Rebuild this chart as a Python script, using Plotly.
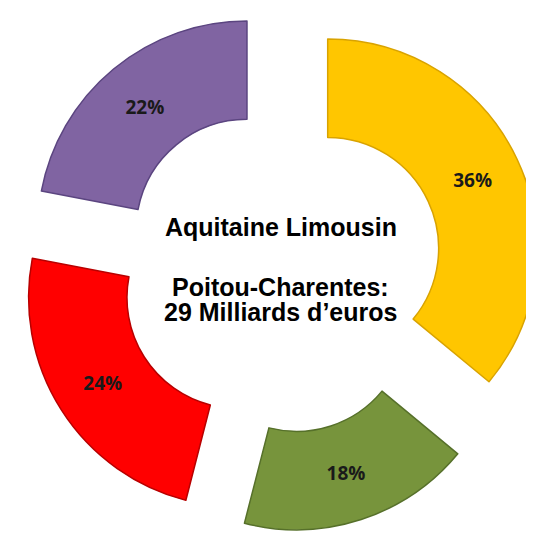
"""
Répartition - anneau éclaté
"""

import plotly.graph_objects as go

# données
regions = ['Jaune', 'Vert', 'Rouge', 'Violet']
parts = [36, 18, 24, 22]
couleurs = ['#FFC600', '#77943C', '#FF0000', '#8064A2']
bordures = ['#D9A300', '#56702A', '#B80000', '#5B4580']
ecarts = [0.25, 0.25, 0.24, 0.25]

titre_1 = 'Aquitaine Limousin'
titre_2 = 'Poitou-Charentes:'
titre_3 = '29 Milliards d’euros'

fig = go.Figure()

fig.add_trace(go.Pie(
    labels=regions,
    values=parts,
    hole=0.53,
    sort=False,
    direction='clockwise',
    rotation=0,
    pull=ecarts,
    marker=dict(colors=couleurs, line=dict(color=bordures, width=1.5)),
    texttemplate='<b>%{percent:.0%}</b>',
    textposition='inside',
    insidetextorientation='horizontal',
    textfont=dict(family='Open Sans', size=19, color='#1A1A1A'),
    domain=dict(x=[0.02, 1], y=[0.02, 1]),
    showlegend=False,
    hovertemplate='%{percent:.0%}<extra></extra>'
))

# texte central
police = dict(family='Liberation Sans, Arial', size=25, color='#000000', weight='bold')
for txt, y in [(titre_1, 0.592), (titre_2, 0.479), (titre_3, 0.433)]:
    fig.add_annotation(
        text=txt, x=0.511, y=y, xref='paper', yref='paper',
        showarrow=False, font=police, xanchor='center', yanchor='middle'
    )

fig.update_layout(
    width=534,
    height=536,
    margin=dict(t=0, b=0, l=0, r=0),
    paper_bgcolor='white',
    plot_bgcolor='white'
)

fig.write_html("out.html")
